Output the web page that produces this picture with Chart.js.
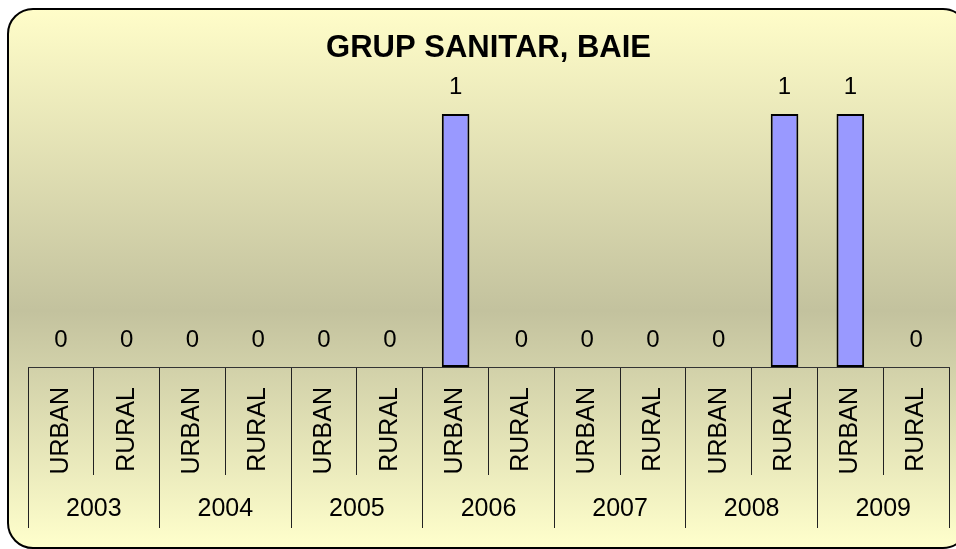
<!DOCTYPE html>
<html>
<head>
<meta charset="utf-8">
<script src="https://cdn.jsdelivr.net/npm/chart.js@4/dist/chart.umd.min.js"></script>
<style>
html,body{margin:0;padding:0;background:#fff;}
#wrap{width:956px;height:549px;position:relative;}
</style>
</head>
<body>
<div id="wrap"><canvas id="grafico"></canvas></div>
<script>
const anos=['2003','2004','2005','2006','2007','2008','2009'];
const medii=['URBAN','RURAL'];
const valori=[0,0,0,0,0,0,1,0,0,0,0,1,1,0];
const etichete=anos.flatMap(function(){return medii;});

const FONT='"Liberation Sans", Arial, sans-serif';

// rounded frame with the vertical gradient behind everything
const fundal={
  id:'fundal',
  beforeDraw:function(chart){
    const ctx=chart.ctx;
    const x=8,y=9,w=960,h=539,r=25;
    const g=ctx.createLinearGradient(0,y,0,y+h);
    g.addColorStop(0,'#fffdc9');
    g.addColorStop(0.56,'#c3c29e');
    g.addColorStop(1,'#ffffcc');
    ctx.save();
    ctx.beginPath();
    ctx.moveTo(x+r,y);
    ctx.lineTo(x+w-r,y);
    ctx.arcTo(x+w,y,x+w,y+r,r);
    ctx.lineTo(x+w,y+h-r);
    ctx.arcTo(x+w,y+h,x+w-r,y+h,r);
    ctx.lineTo(x+r,y+h);
    ctx.arcTo(x,y+h,x,y+h-r,r);
    ctx.lineTo(x,y+r);
    ctx.arcTo(x,y,x+r,y,r);
    ctx.closePath();
    ctx.fillStyle=g;
    ctx.fill();
    ctx.lineWidth=2;
    ctx.strokeStyle='#000';
    ctx.stroke();
    ctx.restore();
  }
};

// value labels above each bar
const etichetaValori={
  id:'etichetaValori',
  afterDatasetsDraw:function(chart){
    const ctx=chart.ctx;
    const meta=chart.getDatasetMeta(0);
    ctx.save();
    ctx.font='24px '+FONT;
    ctx.fillStyle='#000';
    ctx.textAlign='center';
    ctx.textBaseline='middle';
    meta.data.forEach(function(bar,i){
      ctx.fillText(String(valori[i]),bar.x,bar.y-27);
    });
    ctx.restore();
  }
};

new Chart(document.getElementById('grafico'),{
  type:'bar',
  data:{labels:etichete,datasets:[{
    data:valori,
    backgroundColor:'#9999ff',
    borderColor:'#000',
    borderWidth:2,
    borderSkipped:false,
    categoryPercentage:1,
    barPercentage:0.42
  }]},
  options:{
    responsive:true,maintainAspectRatio:false,animation:false,
    layout:{padding:{left:28,right:7,top:0,bottom:21}},
    plugins:{
      legend:{display:false},
      tooltip:{enabled:false},
      title:{display:true,text:'GRUP SANITAR, BAIE',color:'#000',
        font:{family:FONT,size:31,weight:'bold',lineHeight:1},
        padding:{top:32.5,bottom:50.5}}
    },
    scales:{
      x:{
        type:'category',position:'bottom',offset:true,
        border:{display:true,color:'#333',width:1},
        grid:{display:true,drawOnChartArea:false,drawTicks:true,offset:true,tickLength:108,color:'#222',lineWidth:1},
        ticks:{color:'#000',font:{family:FONT,size:25},minRotation:90,maxRotation:90,autoSkip:false,padding:-88},
        afterFit:function(s){s.height=108;}
      },
      x2:{
        type:'category',position:'bottom',offset:true,labels:anos,
        border:{display:false},
        grid:{display:true,drawOnChartArea:false,drawTicks:true,offset:true,tickLength:53,color:'#222',lineWidth:1},
        ticks:{color:'#000',font:{family:FONT,size:25},maxRotation:0,autoSkip:false,padding:-34},
        afterFit:function(s){s.height=53;}
      },
      y:{display:false,min:0,max:1}
    }
  },
  plugins:[fundal,etichetaValori]
});
</script>
</body>
</html>
